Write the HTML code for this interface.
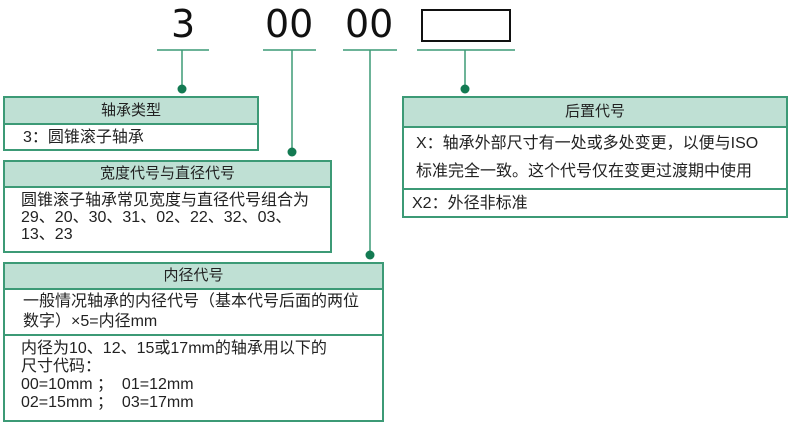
<!DOCTYPE html>
<html><head><meta charset="utf-8"><style>
body{margin:0;width:790px;height:426px;background:#fff;position:relative;overflow:hidden;font-family:"Liberation Sans","Noto Sans CJK SC",sans-serif;color:#222}
.a{position:absolute}
.box{position:absolute;border:2px solid #3c9a76;box-sizing:border-box;background:#fff}
.hd{background:#bfe0d4;border-bottom:2px solid #3c9a76;text-align:center;font-size:15px;box-sizing:border-box}
.tx{font-size:16px;line-height:17px;padding-left:14px;white-space:nowrap}
.num{position:absolute;font-size:38px;top:2px;color:#111;font-family:"DejaVu Sans",sans-serif}
</style></head><body>
<svg class="a" style="left:0;top:0" width="790" height="426">
<g stroke="#3c9a76" stroke-width="1.5" fill="none">
<line x1="157" y1="50" x2="209" y2="50"/><line x1="263" y1="50" x2="316" y2="50"/>
<line x1="343" y1="50" x2="397" y2="50"/><line x1="417" y1="50" x2="515" y2="50"/>
<line x1="182" y1="50" x2="182" y2="89"/><line x1="292" y1="50" x2="292" y2="152"/>
<line x1="370" y1="50" x2="370" y2="254"/><line x1="465" y1="50" x2="465" y2="89"/>
</g>
<g fill="#137a52"><circle cx="182" cy="89" r="4.5"/><circle cx="292" cy="152" r="4.5"/><circle cx="370" cy="255" r="4.5"/><circle cx="465" cy="89" r="4.5"/></g>
<rect x="422" y="10" width="88" height="31" fill="none" stroke="#111" stroke-width="2"/>
</svg>
<div class="num" style="left:171px">3</div>
<div class="num" style="left:265px">00</div>
<div class="num" style="left:345px">00</div>

<div class="box" style="left:3px;top:96px;width:256px;height:55px">
<div class="hd" style="height:27px;line-height:25px">轴承类型</div>
<div class="tx" style="padding-left:18px;line-height:26px">3：圆锥滚子轴承</div></div>

<div class="box" style="left:3px;top:160px;width:329px;height:93px">
<div class="hd" style="height:26px;line-height:24px">宽度代号与直径代号</div>
<div class="tx" style="padding-left:16px;padding-top:4px">圆锥滚子轴承常见宽度与直径代号组合为<br>29、20、30、31、02、22、32、03、<br>13、23</div></div>

<div class="box" style="left:3px;top:262px;width:381px;height:160px">
<div class="hd" style="height:26px;line-height:24px">内径代号</div>
<div class="tx" style="padding-left:18px;padding-top:2px;line-height:20px;height:46px;border-bottom:2px solid #3c9a76;box-sizing:border-box">一般情况轴承的内径代号（基本代号后面的两位<br>数字）×5=内径mm</div>
<div class="tx" style="padding-left:16px;padding-top:4px;line-height:18px">内径为10、12、15或17mm的轴承用以下的<br>尺寸代码：<br>00=10mm ；&nbsp; 01=12mm<br>02=15mm ；&nbsp; 03=17mm</div></div>

<div class="box" style="left:402px;top:96px;width:386px;height:122px">
<div class="hd" style="height:30px;line-height:28px">后置代号</div>
<div class="tx" style="padding-left:12px;line-height:28px;height:62px;border-bottom:2px solid #3c9a76;box-sizing:border-box;padding-top:2px">X：轴承外部尺寸有一处或多处变更，以便与ISO<br>标准完全一致。这个代号仅在变更过渡期中使用</div>
<div class="tx" style="padding-left:8px;line-height:28px">X2：外径非标准</div></div>
</body></html>
